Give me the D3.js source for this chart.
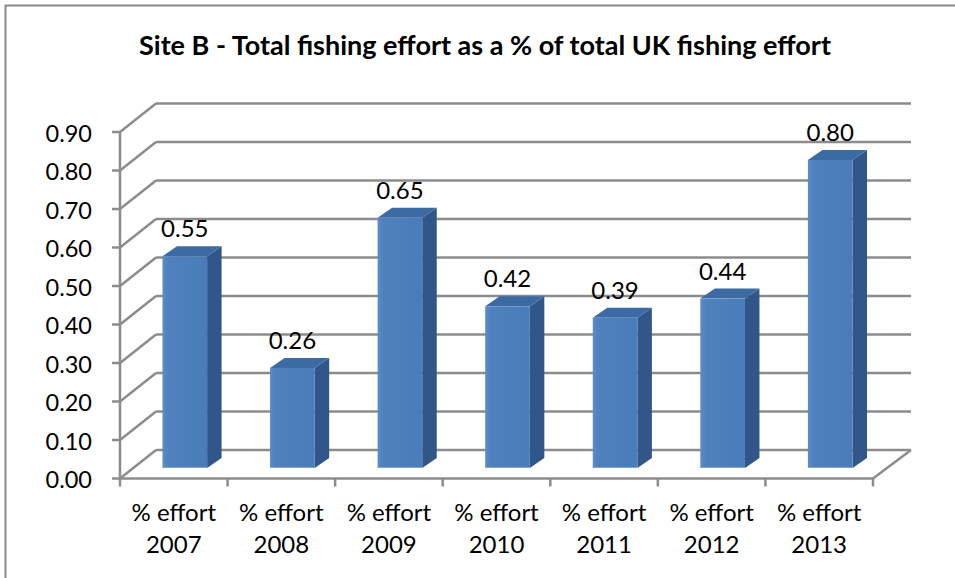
<!DOCTYPE html>
<html>
<head>
<meta charset="utf-8">
<script src="https://cdn.jsdelivr.net/npm/d3@7"></script>
<style>
  html, body { margin: 0; padding: 0; background: #fff; }
  svg { display: block; }
  text { font-family: Lato, "Open Sans", sans-serif; fill: #000; }
</style>
</head>
<body>
<svg id="chart" width="955" height="578"></svg>
<script>
const title = "Site B - Total fishing effort as a % of total UK fishing effort";
const categories = ["% effort 2007", "% effort 2008", "% effort 2009", "% effort 2010", "% effort 2011", "% effort 2012", "% effort 2013"];
const values = [0.55, 0.26, 0.65, 0.42, 0.39, 0.44, 0.80];
const valueLabels = ["0.55", "0.26", "0.65", "0.42", "0.39", "0.44", "0.80"];
const yTicks = [0, 0.1, 0.2, 0.3, 0.4, 0.5, 0.6, 0.7, 0.8, 0.9];

const svg = d3.select("#chart");

// outer chart border
svg.append("rect").attr("x", 5.5).attr("y", 5.5).attr("width", 1000).attr("height", 700)
  .attr("fill", "none").attr("stroke", "#8a8a8a").attr("stroke-width", 2);

// title
svg.append("text").attr("x", 485).attr("y", 55)
  .attr("text-anchor", "middle").attr("font-weight", "bold").attr("font-size", 27)
  .text(title);

// geometry
const left = 120, right = 873;
const depth = {dx: 36, dy: -28.5};       // full floor depth
const barFront = {dx: 11, dy: -10.5};    // bar front face offset
const barDepth = {dx: 14.5, dy: -10};    // bar thickness in depth

const y = d3.scaleLinear().domain([0, 0.9]).range([478.5, 132]);
const x = d3.scaleBand().domain(categories).range([left, right]).paddingInner(0).paddingOuter(0);
const barW = x.bandwidth() * 0.415;

const grid = svg.append("g");
const gridColor = "#8c8c8c";

// back wall gridlines + side wall diagonals
yTicks.forEach(t => {
  const yf = y(t), yb = y(t) + depth.dy;
  grid.append("line").attr("x1", left + depth.dx).attr("x2", right + depth.dx + 2)
    .attr("y1", yb).attr("y2", yb)
    .attr("stroke", gridColor).attr("stroke-width", 2.5);
  grid.append("line").attr("x1", left).attr("y1", yf).attr("x2", left + depth.dx).attr("y2", yb)
    .attr("stroke", gridColor).attr("stroke-width", 2.5);
});
// floor right side diagonal
grid.append("line").attr("x1", right).attr("y1", y(0))
  .attr("x2", right + depth.dx + 2).attr("y2", y(0) + depth.dy)
  .attr("stroke", gridColor).attr("stroke-width", 2.5);

// bars
const defs = svg.append("defs");
const grad = defs.append("linearGradient").attr("id", "front").attr("x1", 0).attr("x2", 1).attr("y1", 0).attr("y2", 0);
grad.append("stop").attr("offset", 0).attr("stop-color", "#5b8dcb");
grad.append("stop").attr("offset", 0.12).attr("stop-color", "#4f81bd");
grad.append("stop").attr("offset", 1).attr("stop-color", "#4a7cb9");

const bars = svg.append("g");
categories.forEach((c, i) => {
  const v = values[i];
  const cx = x(c) + x.bandwidth() / 2 + barFront.dx;
  const x0 = cx - barW / 2, x1 = cx + barW / 2;
  const yb = y(0) + barFront.dy, yt = y(v) + barFront.dy;
  const g = bars.append("g");
  // side face
  g.append("path").attr("d", `M${x1},${yt} L${x1 + barDepth.dx},${yt + barDepth.dy} L${x1 + barDepth.dx},${yb + barDepth.dy} L${x1},${yb} Z`)
    .attr("fill", "#31568a");
  // top face
  g.append("path").attr("d", `M${x0},${yt} L${x0 + barDepth.dx},${yt + barDepth.dy} L${x1 + barDepth.dx},${yt + barDepth.dy} L${x1},${yt} Z`)
    .attr("fill", "#3c6aa3");
  // front face
  g.append("rect").attr("x", x0).attr("y", yt).attr("width", barW).attr("height", yb - yt)
    .attr("fill", "url(#front)");
  g.append("line").attr("x1", x0).attr("x2", x1).attr("y1", yb - 0.5).attr("y2", yb - 0.5)
    .attr("stroke", "#7fa6d6").attr("stroke-width", 1);
  // data label
  svg.append("text").attr("x", cx).attr("y", yt + barDepth.dy - 9)
    .attr("text-anchor", "middle").attr("font-size", 24).text(valueLabels[i]);
});

// front vertical axis
const axisG = svg.append("g");
axisG.append("line").attr("x1", left).attr("x2", left).attr("y1", y(0.9)).attr("y2", y(0))
  .attr("stroke", gridColor).attr("stroke-width", 2.5);
yTicks.forEach(t => {
  axisG.append("line").attr("x1", left - 8).attr("x2", left).attr("y1", y(t)).attr("y2", y(t))
    .attr("stroke", gridColor).attr("stroke-width", 2.5);
  axisG.append("text").attr("x", 92).attr("y", y(t)).attr("dy", "0.42em")
    .attr("text-anchor", "end").attr("font-size", 23.5).text(d3.format(".2f")(t));
});

// bottom axis
axisG.append("line").attr("x1", left).attr("x2", right).attr("y1", y(0)).attr("y2", y(0))
  .attr("stroke", gridColor).attr("stroke-width", 2.5);
const tickXs = categories.map(c => x(c)).concat([right]);
tickXs.forEach(tx => {
  axisG.append("line").attr("x1", tx).attr("x2", tx).attr("y1", y(0)).attr("y2", y(0) + 8)
    .attr("stroke", gridColor).attr("stroke-width", 2.5);
});
categories.forEach(c => {
  const parts = c.split(" ");
  const t = axisG.append("text").attr("text-anchor", "middle").attr("font-size", 24);
  t.append("tspan").attr("x", x(c) + x.bandwidth() / 2).attr("y", 521).text(parts[0] + " " + parts[1]);
  t.append("tspan").attr("x", x(c) + x.bandwidth() / 2).attr("y", 553).text(parts[2]);
});
</script>
</body>
</html>
